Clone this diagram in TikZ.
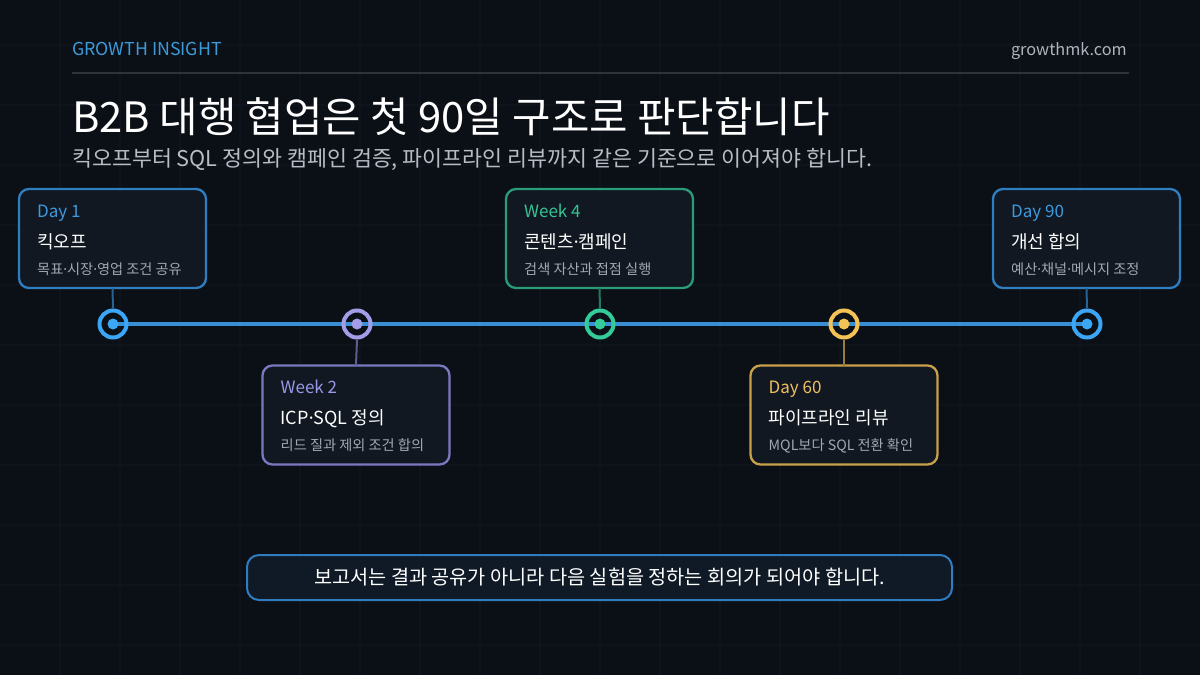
\documentclass[tikz,border=0pt]{standalone}
\usepackage{fontspec}
\setmainfont{Noto Sans CJK KR}
\newfontfamily\latinfont{Noto Sans}
\newcommand{\mdot}{{\latinfont ·}}
\definecolor{bg}{HTML}{0B0F16}
\definecolor{gridc}{HTML}{0F141C}
\definecolor{cardbg}{HTML}{111821}
\definecolor{notebg}{HTML}{0F1A26}
\definecolor{accent}{HTML}{3D9AD8}
\definecolor{muted}{HTML}{B0B5BD}
\definecolor{subgray}{HTML}{B8BCC4}
\definecolor{smallgray}{HTML}{A3A8B0}
\definecolor{divider}{HTML}{2E333B}
\definecolor{tline}{HTML}{3A8ED4}
\definecolor{cblue}{HTML}{3D9AE0}
\definecolor{bblue}{HTML}{2F7FC0}
\definecolor{mblue}{HTML}{3AA6F5}
\definecolor{cpurple}{HTML}{9A98E8}
\definecolor{bpurple}{HTML}{7A78C0}
\definecolor{mpurple}{HTML}{A39CE8}
\definecolor{cgreen}{HTML}{34C495}
\definecolor{bgreen}{HTML}{2A9C78}
\definecolor{mgreen}{HTML}{33CC99}
\definecolor{cyellow}{HTML}{F0C060}
\definecolor{byellow}{HTML}{C9A04A}
\definecolor{myellow}{HTML}{F2C255}
\definecolor{notebd}{HTML}{2F7CC0}
\tikzset{
  card/.style={draw=#1, line width=2.3pt, rounded corners=10pt, fill=cardbg,
    minimum width=187pt, minimum height=99pt, inner sep=0pt, outer sep=0pt},
  lab/.style={text=#1, anchor=base west, inner sep=0pt, font=\fontsize{17}{20}\selectfont},
  ctitle/.style={text=white, anchor=base west, inner sep=0pt, font=\fontsize{18}{21}\selectfont},
  csub/.style={text=smallgray, anchor=base west, inner sep=0pt, font=\fontsize{14.2}{17}\selectfont},
  conn/.style={draw=#1!75!bg, line width=2pt},
  marker/.style={circle, draw=#1, line width=4pt, minimum size=27pt, inner sep=0pt},
}
\begin{document}
\begin{tikzpicture}[x=1pt,y=-1pt]
\useasboundingbox (0,0) rectangle (1200,675);
\fill[bg] (0,0) rectangle (1200,675);
% faint grid
\foreach \i in {60,120,...,1140} \draw[gridc, line width=1.2pt] (\i,0) -- (\i,675);
\foreach \j in {45,105,...,645} \draw[gridc, line width=1.2pt] (0,\j) -- (1200,\j);

% header
\node[text=accent, anchor=base west, inner sep=0pt, font=\fontsize{17.8}{21}\selectfont] (brand) at (72,55) {GROWTH INSIGHT};
\node[text=muted, anchor=base east, inner sep=0pt, font=\fontsize{16.3}{19}\selectfont] (site) at (1127,55) {growthmk.com};
\draw[divider, line width=2pt] (72,73) -- (1129,73);

\node[text=white, anchor=base west, inner sep=0pt, font=\fontsize{41.8}{46}\selectfont] (title) at (72,132) {B2B 대행 협업은 첫 90일 구조로 판단합니다};
\node[text=subgray, anchor=base west, inner sep=0pt, font=\fontsize{21.7}{25}\selectfont] (subtitle) at (72,166) {킥오프부터 SQL 정의와 캠페인 검증, 파이프라인 리뷰까지 같은 기준으로 이어져야 합니다.};

% timeline
\coordinate (t1) at (113,324);
\coordinate (t2) at (357,324);
\coordinate (t3) at (600,324);
\coordinate (t4) at (844,324);
\coordinate (t5) at (1087,324);
\draw[tline, line width=4pt] (t1) -- (t5);

% cards
\node[card=bblue] (b1) at (112.5,238.5) {};
\node[card=bpurple] (b2) at (356,415) {};
\node[card=bgreen] (b3) at (599.5,238.5) {};
\node[card=byellow] (b4) at (844,415) {};
\node[card=bblue] (b5) at (1086.5,238.5) {};

% markers
\node[marker=mblue] (m1) at (t1) {};
\node[marker=mpurple] (m2) at (t2) {};
\node[marker=mgreen] (m3) at (t3) {};
\node[marker=myellow] (m4) at (t4) {};
\node[marker=mblue] (m5) at (t5) {};
\fill[mblue] (m1.center) circle (5.5);
\fill[mpurple] (m2.center) circle (5.5);
\fill[mgreen] (m3.center) circle (5.5);
\fill[myellow] (m4.center) circle (5.5);
\fill[mblue] (m5.center) circle (5.5);

% connectors
\draw[conn=bblue] (b1.south) -- (m1.north);
\draw[conn=bpurple] (m2.south) -- (b2.north);
\draw[conn=bgreen] (b3.south) -- (m3.north);
\draw[conn=byellow] (m4.south) -- (b4.north);
\draw[conn=bblue] (b5.south) -- (m5.north);

% card texts
\node[lab=cblue] (l1) at ([shift={(18,28)}]b1.north west) {Day 1};
\node[ctitle] (h1) at ([shift={(18,59)}]b1.north west) {킥오프};
\node[csub] (s1) at ([shift={(18,85)}]b1.north west) {목표\mdot 시장\mdot 영업 조건 공유};

\node[lab=cpurple] (l2) at ([shift={(18,28)}]b2.north west) {Week 2};
\node[ctitle] (h2) at ([shift={(18,59)}]b2.north west) {ICP\mdot SQL 정의};
\node[csub] (s2) at ([shift={(18,85)}]b2.north west) {리드 질과 제외 조건 합의};

\node[lab=cgreen] (l3) at ([shift={(18,28)}]b3.north west) {Week 4};
\node[ctitle] (h3) at ([shift={(18,59)}]b3.north west) {콘텐츠\mdot 캠페인};
\node[csub] (s3) at ([shift={(18,85)}]b3.north west) {검색 자산과 접점 실행};

\node[lab=cyellow] (l4) at ([shift={(18,28)}]b4.north west) {Day 60};
\node[ctitle] (h4) at ([shift={(18,59)}]b4.north west) {파이프라인 리뷰};
\node[csub] (s4) at ([shift={(18,85)}]b4.north west) {MQL보다 SQL 전환 확인};

\node[lab=cblue] (l5) at ([shift={(18,28)}]b5.north west) {Day 90};
\node[ctitle] (h5) at ([shift={(18,59)}]b5.north west) {개선 합의};
\node[csub] (s5) at ([shift={(18,85)}]b5.north west) {예산\mdot 채널\mdot 메시지 조정};

% bottom note
\node[draw=notebd, fill=notebg, line width=2pt, rounded corners=12pt,
  minimum width=705pt, minimum height=45pt, inner sep=0pt,
  text=white, font=\fontsize{19.7}{23}\selectfont] (note) at (599.5,577.5)
  {보고서는 결과 공유가 아니라 다음 실험을 정하는 회의가 되어야 합니다.};
\end{tikzpicture}
\end{document}
